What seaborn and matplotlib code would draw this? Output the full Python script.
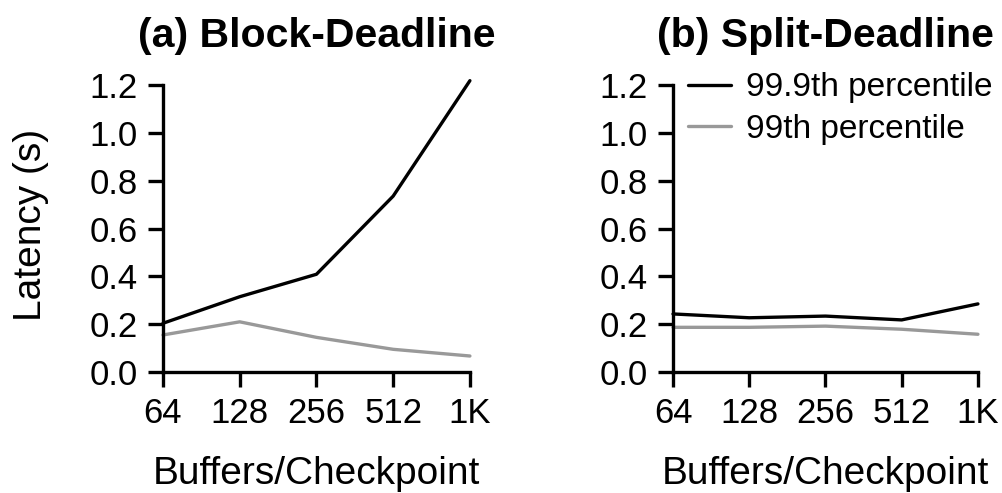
import matplotlib
matplotlib.use("Agg")
import matplotlib.pyplot as plt
import seaborn as sns
import pandas as pd

# Buffers per checkpoint (x categories)
buffers = ["64", "128", "256", "512", "1K"]
series_names = ["99.9th percentile", "99th percentile"]

# Latency in seconds
block_p999 = [0.204, 0.315, 0.409, 0.736, 1.219]
block_p99 = [0.155, 0.210, 0.145, 0.095, 0.067]
split_p999 = [0.243, 0.227, 0.234, 0.218, 0.285]
split_p99 = [0.187, 0.187, 0.192, 0.179, 0.158]

titles = ["(a) Block-Deadline", "(b) Split-Deadline"]
y_ticks = [0.0, 0.2, 0.4, 0.6, 0.8, 1.0, 1.2]

sns.set_style("ticks")
plt.rcParams["font.family"] = ["Liberation Sans", "DejaVu Sans"]
plt.rcParams.update({
    "text.color": "black",
    "axes.labelcolor": "black",
    "axes.edgecolor": "black",
    "xtick.color": "black",
    "ytick.color": "black",
})


def long_form(p999, p99):
    rows = []
    for i, label in enumerate(buffers):
        rows.append({"pos": i, "buffers": label, "series": series_names[0], "latency": p999[i]})
        rows.append({"pos": i, "buffers": label, "series": series_names[1], "latency": p99[i]})
    return pd.DataFrame(rows)


frames = [long_form(block_p999, block_p99), long_form(split_p999, split_p99)]
palette = {series_names[0]: "#000000", series_names[1]: "#999999"}
LW = 2.4

fig = plt.figure(figsize=(10.03, 4.93), dpi=100)
axes = [
    fig.add_axes([0.1625, 0.2454, 0.306, 0.5963]),
    fig.add_axes([0.671, 0.2454, 0.304, 0.5963]),
]

for k, (ax, df) in enumerate(zip(axes, frames)):
    sns.lineplot(data=df, x="pos", y="latency", hue="series", palette=palette,
                 linewidth=LW, ax=ax, legend=(k == 1), clip_on=False)
    ax.set_xlim(0, len(buffers) - 1)
    ax.set_ylim(0, 1.23)
    ax.set_xticks(range(len(buffers)))
    ax.set_xticklabels(buffers)
    ax.set_yticks(y_ticks)
    ax.set_yticklabels([f"{v:.1f}" for v in y_ticks])
    for side in ("top", "right"):
        ax.spines[side].set_visible(False)
    for side in ("left", "bottom"):
        ax.spines[side].set_linewidth(LW)
    ax.spines["left"].set_bounds(0, 1.2)
    ax.tick_params(axis="both", direction="out", length=10.5, width=LW,
                   labelsize=25, pad=7.5)
    ax.set_xlabel("Buffers/Checkpoint", fontsize=28, labelpad=19)
    ax.set_ylabel("Latency (s)" if k == 0 else "", fontsize=28, labelpad=29)
    ax.set_title(titles[k], fontsize=29.5, fontweight="bold", pad=22)

leg = axes[1].legend(loc="upper left", bbox_to_anchor=(0.005, 1.065), frameon=False,
                     fontsize=24, handlelength=1.3, handletextpad=0.45,
                     labelspacing=0.32, borderaxespad=0)
for line in leg.get_lines():
    line.set_linewidth(LW)

fig.savefig("out.png", dpi=100)
